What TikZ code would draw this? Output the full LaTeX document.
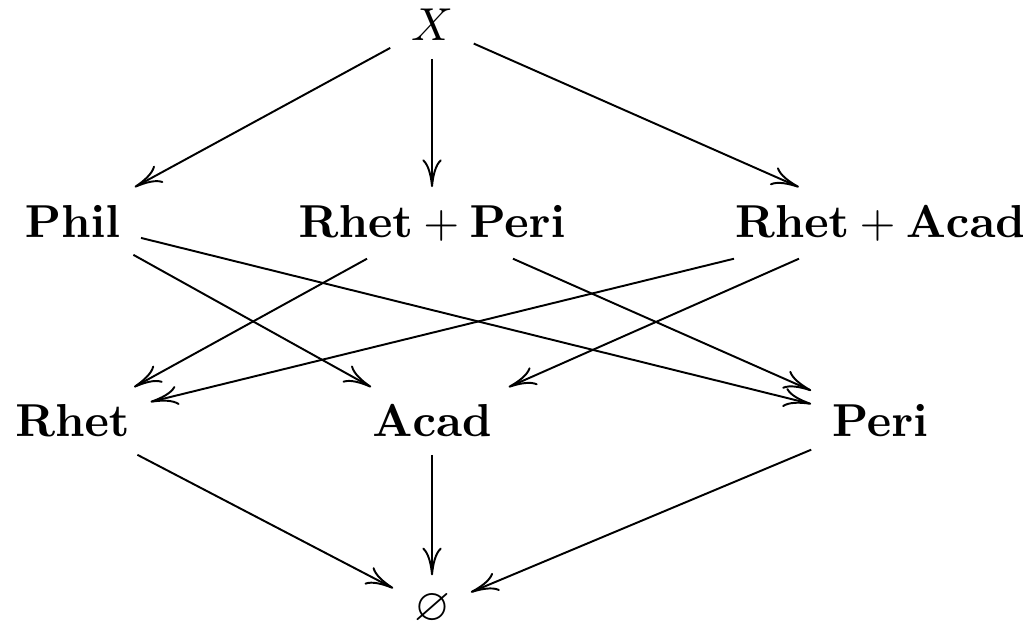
\documentclass[tikz,border=0pt]{standalone}
\usepackage{amsmath}
\usepackage{amssymb}
\usepackage{tikz}
\usetikzlibrary{arrows.meta}

\tikzset{
  cellule/.style={inner xsep=1ex, inner ysep=0.85ex, anchor=base},
  fleche/.style={-{Computer Modern Rightarrow[length=6pt,width=4.2pt]}, line width=0.42pt}
}

\begin{document}
\begin{tikzpicture}
        \useasboundingbox (0,0) rectangle (7.839,4.787);
        \node[cellule] (X) at (3.288,4.475) {$X$};
        \node[cellule] (Phil) at (0.552,2.983) {$\mathbf{Phil}$};
        \node[cellule] (RP) at (3.288,2.983) {$\mathbf{Rhet}+\mathbf{Peri}$};
        \node[cellule] (RA) at (6.697,2.983) {$\mathbf{Rhet}+\mathbf{Acad}$};
        \node[cellule] (Rhet) at (0.552,1.461) {$\mathbf{Rhet}$};
        \node[cellule] (Acad) at (3.288,1.461) {$\mathbf{Acad}$};
        \node[cellule] (Peri) at (6.697,1.461) {$\mathbf{Peri}$};
        \node[cellule] (vide) at (3.288,0.068) {$\varnothing$};
        \draw[fleche] (X) -- (Phil);
        \draw[fleche] (X) -- (RP);
        \draw[fleche] (X) -- (RA);
        \draw[fleche] (Phil) -- (Acad);
        \draw[fleche] (Phil) -- (Peri);
        \draw[fleche] (RP) -- (Rhet);
        \draw[fleche] (RP) -- (Peri);
        \draw[fleche] (RA) -- (Rhet);
        \draw[fleche] (RA) -- (Acad);
        \draw[fleche] (Rhet) -- (vide);
        \draw[fleche] (Acad) -- (vide);
        \draw[fleche] (Peri) -- (vide);
      \end{tikzpicture}
\end{document}
